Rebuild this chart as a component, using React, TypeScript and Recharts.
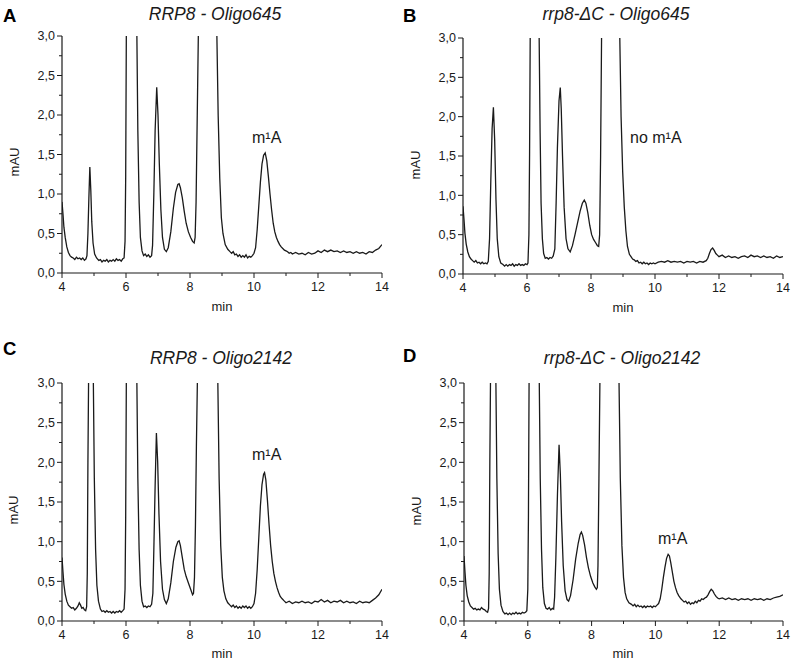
import React from 'react';
import { LineChart, Line, XAxis, YAxis } from 'recharts';

// ---------- data: [time (min), absorbance (mAU)] ----------
const traceA: [number, number][] = [
  [4.0, 0.9], [4.03, 0.75], [4.06, 0.58], [4.1, 0.45], [4.15, 0.33], [4.2, 0.26], [4.25, 0.22], [4.3, 0.2],
  [4.35, 0.19], [4.4, 0.17], [4.45, 0.2], [4.5, 0.18], [4.55, 0.19], [4.6, 0.17], [4.65, 0.19], [4.7, 0.16],
  [4.75, 0.18], [4.78, 0.22], [4.81, 0.5], [4.84, 0.95], [4.87, 1.34], [4.9, 1.05], [4.93, 0.65], [4.97, 0.38],
  [5.02, 0.24], [5.08, 0.19], [5.15, 0.16], [5.2, 0.17], [5.25, 0.14], [5.3, 0.16], [5.35, 0.15], [5.4, 0.17],
  [5.45, 0.14], [5.5, 0.16], [5.55, 0.15], [5.6, 0.17], [5.65, 0.15], [5.7, 0.18], [5.75, 0.16], [5.8, 0.17],
  [5.85, 0.15], [5.9, 0.18], [5.94, 0.19], [5.97, 0.4], [5.99, 1.2], [6.01, 3.0], [6.03, 4.5], [6.17, 8],
  [6.31, 4.5], [6.34, 3.0], [6.37, 1.8], [6.41, 0.9], [6.45, 0.45], [6.5, 0.28], [6.55, 0.22], [6.6, 0.24],
  [6.65, 0.21], [6.7, 0.23], [6.75, 0.2], [6.8, 0.22], [6.83, 0.35], [6.87, 1.0], [6.91, 1.8], [6.96, 2.35],
  [7.0, 2.0], [7.04, 1.4], [7.09, 0.8], [7.14, 0.45], [7.2, 0.3], [7.26, 0.27], [7.32, 0.32], [7.4, 0.52],
  [7.48, 0.82], [7.55, 1.02], [7.62, 1.12], [7.66, 1.13], [7.7, 1.08], [7.76, 0.95], [7.82, 0.78], [7.88, 0.63],
  [7.95, 0.52], [8.02, 0.45], [8.08, 0.4], [8.13, 0.38], [8.16, 0.45], [8.19, 0.9], [8.22, 1.8], [8.26, 3.0],
  [8.3, 4.5], [8.55, 9], [8.8, 4.5], [8.84, 3.0], [8.88, 2.0], [8.93, 1.2], [8.98, 0.7], [9.03, 0.5],
  [9.1, 0.36], [9.18, 0.3], [9.25, 0.27], [9.3, 0.25], [9.35, 0.27], [9.4, 0.23], [9.45, 0.24], [9.5, 0.21],
  [9.55, 0.23], [9.6, 0.2], [9.65, 0.22], [9.7, 0.2], [9.75, 0.23], [9.8, 0.19], [9.85, 0.21], [9.9, 0.2],
  [9.95, 0.22], [10.0, 0.25], [10.05, 0.32], [10.1, 0.55], [10.15, 0.85], [10.2, 1.15], [10.25, 1.38], [10.3, 1.49],
  [10.35, 1.52], [10.4, 1.42], [10.45, 1.22], [10.5, 1.0], [10.55, 0.8], [10.6, 0.63], [10.65, 0.52], [10.7, 0.45],
  [10.75, 0.4], [10.8, 0.36], [10.85, 0.33], [10.9, 0.31], [10.95, 0.29], [11.0, 0.28], [11.05, 0.27], [11.1, 0.25],
  [11.15, 0.26], [11.2, 0.24], [11.3, 0.26], [11.4, 0.24], [11.5, 0.25], [11.6, 0.23], [11.7, 0.26], [11.8, 0.24],
  [11.9, 0.25], [12.0, 0.28], [12.1, 0.26], [12.2, 0.29], [12.3, 0.27], [12.4, 0.29], [12.5, 0.27], [12.6, 0.28],
  [12.7, 0.26], [12.8, 0.28], [12.9, 0.26], [13.0, 0.27], [13.1, 0.25], [13.2, 0.27], [13.3, 0.25], [13.4, 0.26],
  [13.5, 0.24], [13.6, 0.27], [13.7, 0.26], [13.8, 0.29], [13.9, 0.31], [14.0, 0.36],
];

const traceB: [number, number][] = [
  [4.0, 0.86], [4.03, 0.7], [4.06, 0.52], [4.1, 0.38], [4.15, 0.28], [4.2, 0.22], [4.25, 0.19], [4.3, 0.17],
  [4.35, 0.15], [4.4, 0.17], [4.45, 0.14], [4.5, 0.15], [4.55, 0.13], [4.6, 0.15], [4.65, 0.13], [4.7, 0.14],
  [4.75, 0.13], [4.79, 0.16], [4.83, 0.45], [4.87, 1.2], [4.91, 1.85], [4.95, 2.12], [4.99, 1.7], [5.03, 0.95],
  [5.07, 0.45], [5.12, 0.22], [5.18, 0.14], [5.25, 0.12], [5.3, 0.1], [5.35, 0.12], [5.4, 0.1], [5.45, 0.12],
  [5.5, 0.11], [5.55, 0.13], [5.6, 0.1], [5.65, 0.12], [5.7, 0.11], [5.75, 0.13], [5.8, 0.11], [5.85, 0.12],
  [5.9, 0.11], [5.95, 0.13], [6.0, 0.12], [6.03, 0.14], [6.06, 0.5], [6.08, 1.5], [6.1, 3.0], [6.12, 4.5],
  [6.24, 8], [6.36, 4.5], [6.38, 3.0], [6.41, 1.8], [6.44, 0.9], [6.48, 0.45], [6.52, 0.26], [6.57, 0.2],
  [6.62, 0.21], [6.67, 0.19], [6.72, 0.21], [6.77, 0.2], [6.82, 0.23], [6.87, 0.32], [6.91, 0.9], [6.95, 1.6],
  [7.0, 2.2], [7.04, 2.37], [7.07, 2.1], [7.11, 1.5], [7.16, 0.85], [7.22, 0.45], [7.28, 0.32], [7.35, 0.28],
  [7.42, 0.36], [7.5, 0.5], [7.58, 0.65], [7.66, 0.8], [7.73, 0.9], [7.79, 0.94], [7.84, 0.9], [7.9, 0.78],
  [7.96, 0.62], [8.02, 0.5], [8.08, 0.44], [8.14, 0.4], [8.2, 0.36], [8.24, 0.35], [8.27, 0.5], [8.3, 1.5],
  [8.33, 3.0], [8.36, 4.5], [8.62, 9], [8.86, 4.5], [8.9, 3.0], [8.94, 2.0], [8.99, 1.3], [9.04, 0.85],
  [9.09, 0.55], [9.14, 0.35], [9.2, 0.25], [9.25, 0.22], [9.3, 0.19], [9.35, 0.18], [9.4, 0.16], [9.45, 0.17],
  [9.5, 0.14], [9.55, 0.15], [9.6, 0.13], [9.65, 0.15], [9.7, 0.13], [9.75, 0.14], [9.8, 0.12], [9.85, 0.14],
  [9.9, 0.13], [9.95, 0.14], [10.0, 0.13], [10.1, 0.15], [10.2, 0.16], [10.3, 0.15], [10.4, 0.17], [10.5, 0.15],
  [10.6, 0.16], [10.7, 0.15], [10.8, 0.16], [10.9, 0.14], [11.0, 0.16], [11.1, 0.15], [11.2, 0.16], [11.3, 0.14],
  [11.4, 0.16], [11.5, 0.15], [11.6, 0.17], [11.65, 0.2], [11.7, 0.26], [11.75, 0.31], [11.8, 0.33], [11.85, 0.3],
  [11.9, 0.26], [11.95, 0.24], [12.0, 0.22], [12.1, 0.24], [12.2, 0.21], [12.3, 0.23], [12.4, 0.21], [12.5, 0.22],
  [12.6, 0.2], [12.7, 0.22], [12.8, 0.23], [12.9, 0.21], [13.0, 0.24], [13.1, 0.22], [13.2, 0.23], [13.3, 0.21],
  [13.4, 0.23], [13.5, 0.21], [13.6, 0.22], [13.7, 0.2], [13.8, 0.23], [13.9, 0.21], [14.0, 0.22],
];

const traceC: [number, number][] = [
  [4.0, 0.8], [4.03, 0.62], [4.06, 0.46], [4.1, 0.34], [4.15, 0.25], [4.2, 0.2], [4.25, 0.18], [4.3, 0.16],
  [4.35, 0.17], [4.4, 0.14], [4.45, 0.16], [4.5, 0.19], [4.54, 0.23], [4.58, 0.2], [4.62, 0.16], [4.66, 0.17],
  [4.7, 0.14], [4.74, 0.13], [4.77, 0.18], [4.79, 0.6], [4.81, 2.0], [4.83, 3.0], [4.85, 4.5], [4.92, 8],
  [4.96, 4.5], [4.98, 3.0], [5.01, 1.8], [5.05, 0.9], [5.09, 0.45], [5.14, 0.25], [5.2, 0.15], [5.25, 0.12],
  [5.3, 0.13], [5.35, 0.11], [5.4, 0.13], [5.45, 0.11], [5.5, 0.12], [5.55, 0.1], [5.6, 0.12], [5.65, 0.1],
  [5.7, 0.12], [5.75, 0.11], [5.8, 0.13], [5.85, 0.11], [5.9, 0.13], [5.94, 0.15], [5.97, 0.4], [5.99, 1.3],
  [6.01, 3.0], [6.03, 4.5], [6.17, 8], [6.31, 4.5], [6.34, 3.0], [6.37, 1.8], [6.41, 0.9], [6.45, 0.45],
  [6.5, 0.25], [6.55, 0.18], [6.6, 0.19], [6.65, 0.17], [6.7, 0.19], [6.75, 0.18], [6.8, 0.21], [6.84, 0.35],
  [6.87, 0.9], [6.91, 1.7], [6.95, 2.37], [6.99, 2.0], [7.03, 1.35], [7.08, 0.75], [7.14, 0.4], [7.2, 0.27],
  [7.26, 0.22], [7.32, 0.28], [7.4, 0.48], [7.48, 0.75], [7.56, 0.93], [7.62, 1.0], [7.66, 1.01], [7.7, 0.95],
  [7.76, 0.8], [7.82, 0.65], [7.88, 0.56], [7.95, 0.48], [8.02, 0.4], [8.08, 0.33], [8.11, 0.35], [8.14, 0.55],
  [8.17, 1.2], [8.2, 2.2], [8.23, 3.0], [8.26, 4.5], [8.54, 9], [8.83, 4.5], [8.87, 3.0], [8.91, 1.8],
  [8.96, 0.95], [9.01, 0.55], [9.06, 0.38], [9.12, 0.28], [9.18, 0.23], [9.25, 0.2], [9.3, 0.18], [9.35, 0.2],
  [9.4, 0.17], [9.45, 0.19], [9.5, 0.16], [9.55, 0.18], [9.6, 0.16], [9.65, 0.19], [9.7, 0.17], [9.75, 0.19],
  [9.8, 0.16], [9.85, 0.18], [9.9, 0.16], [9.95, 0.18], [10.0, 0.22], [10.05, 0.35], [10.1, 0.65], [10.15, 1.05],
  [10.2, 1.45], [10.25, 1.72], [10.3, 1.85], [10.33, 1.87], [10.37, 1.78], [10.42, 1.52], [10.47, 1.22], [10.52, 0.95],
  [10.57, 0.75], [10.62, 0.6], [10.67, 0.5], [10.72, 0.42], [10.77, 0.36], [10.82, 0.31], [10.88, 0.28], [10.95, 0.25],
  [11.0, 0.23], [11.1, 0.25], [11.2, 0.22], [11.3, 0.24], [11.4, 0.23], [11.5, 0.25], [11.6, 0.23], [11.7, 0.24],
  [11.8, 0.22], [11.9, 0.25], [12.0, 0.24], [12.1, 0.27], [12.2, 0.24], [12.3, 0.26], [12.4, 0.23], [12.5, 0.25],
  [12.6, 0.24], [12.7, 0.26], [12.8, 0.23], [12.9, 0.25], [13.0, 0.23], [13.1, 0.24], [13.2, 0.22], [13.3, 0.25],
  [13.4, 0.23], [13.5, 0.24], [13.6, 0.23], [13.7, 0.26], [13.8, 0.29], [13.9, 0.33], [14.0, 0.4],
];

const traceD: [number, number][] = [
  [4.0, 0.82], [4.03, 0.62], [4.06, 0.45], [4.1, 0.32], [4.15, 0.24], [4.2, 0.19], [4.25, 0.17], [4.3, 0.15],
  [4.35, 0.16], [4.4, 0.14], [4.45, 0.15], [4.5, 0.14], [4.55, 0.17], [4.6, 0.15], [4.65, 0.14], [4.7, 0.12],
  [4.74, 0.11], [4.77, 0.16], [4.79, 0.6], [4.81, 2.0], [4.83, 3.0], [4.85, 4.5], [4.92, 8], [4.98, 4.5],
  [5.0, 3.0], [5.03, 1.8], [5.07, 0.85], [5.11, 0.4], [5.16, 0.2], [5.22, 0.12], [5.28, 0.09], [5.33, 0.1],
  [5.38, 0.08], [5.43, 0.1], [5.48, 0.08], [5.53, 0.1], [5.58, 0.09], [5.63, 0.11], [5.68, 0.09], [5.73, 0.1],
  [5.78, 0.09], [5.83, 0.11], [5.88, 0.1], [5.93, 0.11], [5.97, 0.13], [6.0, 0.4], [6.02, 1.3], [6.04, 3.0],
  [6.06, 4.5], [6.2, 8], [6.33, 4.5], [6.36, 3.0], [6.39, 1.8], [6.43, 0.9], [6.47, 0.42], [6.52, 0.22],
  [6.57, 0.16], [6.62, 0.15], [6.67, 0.17], [6.72, 0.14], [6.77, 0.16], [6.81, 0.15], [6.84, 0.3], [6.88, 0.8],
  [6.93, 1.6], [6.98, 2.22], [7.02, 1.85], [7.06, 1.25], [7.11, 0.7], [7.17, 0.38], [7.23, 0.27], [7.28, 0.25],
  [7.34, 0.32], [7.42, 0.52], [7.5, 0.78], [7.58, 0.98], [7.64, 1.09], [7.68, 1.12], [7.72, 1.08], [7.78, 0.96],
  [7.84, 0.8], [7.9, 0.67], [7.97, 0.56], [8.04, 0.48], [8.1, 0.43], [8.15, 0.4], [8.18, 0.42], [8.2, 0.7],
  [8.23, 1.8], [8.26, 3.0], [8.29, 4.5], [8.56, 9], [8.82, 4.5], [8.86, 3.0], [8.9, 1.8], [8.95, 0.95],
  [9.0, 0.55], [9.05, 0.36], [9.1, 0.28], [9.17, 0.23], [9.25, 0.21], [9.3, 0.19], [9.35, 0.21], [9.4, 0.18],
  [9.45, 0.2], [9.5, 0.18], [9.55, 0.19], [9.6, 0.17], [9.65, 0.19], [9.7, 0.17], [9.75, 0.19], [9.8, 0.18],
  [9.85, 0.19], [9.9, 0.17], [9.95, 0.19], [10.0, 0.18], [10.05, 0.2], [10.1, 0.22], [10.15, 0.28], [10.2, 0.4],
  [10.25, 0.55], [10.3, 0.68], [10.35, 0.79], [10.4, 0.84], [10.44, 0.82], [10.48, 0.74], [10.53, 0.62], [10.58, 0.5],
  [10.63, 0.42], [10.68, 0.36], [10.73, 0.32], [10.8, 0.28], [10.85, 0.26], [10.9, 0.24], [10.95, 0.25], [11.0, 0.22],
  [11.05, 0.24], [11.1, 0.21], [11.15, 0.23], [11.2, 0.22], [11.25, 0.25], [11.3, 0.23], [11.35, 0.26], [11.4, 0.25],
  [11.45, 0.28], [11.5, 0.27], [11.55, 0.29], [11.6, 0.3], [11.65, 0.33], [11.7, 0.37], [11.75, 0.4], [11.8, 0.38],
  [11.85, 0.34], [11.9, 0.31], [11.95, 0.29], [12.0, 0.28], [12.1, 0.29], [12.2, 0.27], [12.3, 0.29], [12.4, 0.27],
  [12.5, 0.28], [12.6, 0.26], [12.7, 0.28], [12.8, 0.27], [12.9, 0.28], [13.0, 0.26], [13.1, 0.28], [13.2, 0.27],
  [13.3, 0.28], [13.4, 0.26], [13.5, 0.28], [13.6, 0.27], [13.7, 0.29], [13.8, 0.3], [13.9, 0.31], [14.0, 0.33],
];

const xTicks = [4, 5, 6, 7, 8, 9, 10, 11, 12, 13, 14];
const xLabeled = [4, 6, 8, 10, 12, 14];
const yTicks = [0, 0.25, 0.5, 0.75, 1, 1.25, 1.5, 1.75, 2, 2.25, 2.5, 2.75, 3];
const yLabeled = [0, 0.5, 1, 1.5, 2, 2.5, 3];

const FONT = '"Liberation Sans", Arial, Helvetica, sans-serif';
const INK = '#1a1a1a';

const fmtY = (v: number) => v.toFixed(1).replace('.', ',');

const YTick = (props: any) => {
  const { x, y, payload } = props;
  const v = payload.value as number;
  const major = yLabeled.some((m) => Math.abs(m - v) < 1e-6);
  return (
    <g>
      <line x1={x - (major ? 5 : 3)} y1={y} x2={x} y2={y} stroke={INK} strokeWidth={1} />
      {major && (
        <text x={x - 7} y={y + 4.3} textAnchor="end" fontSize={12.5} fontFamily={FONT} fill={INK}>
          {fmtY(v)}
        </text>
      )}
    </g>
  );
};

const XTick = (props: any) => {
  const { x, y, payload } = props;
  const v = payload.value as number;
  const major = xLabeled.includes(v);
  return (
    <g>
      <line x1={x} y1={y} x2={x} y2={y + (major ? 5 : 3)} stroke={INK} strokeWidth={1} />
      {major && (
        <text x={x} y={y + 17.5} textAnchor="middle" fontSize={12.5} fontFamily={FONT} fill={INK}>
          {v}
        </text>
      )}
    </g>
  );
};

type PanelProps = {
  trace: [number, number][];
  ox: number;
  oy: number;
  plot: { left: number; top: number; right: number; bottom: number };
};

const CW = 400;
const CH = 332;
const YW = 40;
const XH = 30;

const Panel = ({ trace, ox, oy, plot }: PanelProps) => {
  const data = trace.map(([t, v]) => ({ t, v }));
  const margin = {
    top: plot.top - oy,
    left: plot.left - ox - YW,
    right: ox + CW - plot.right,
    bottom: oy + CH - plot.bottom - XH,
  };
  return (
    <div style={{ position: 'absolute', left: ox, top: oy, width: CW, height: CH }}>
      <LineChart width={CW} height={CH} data={data} margin={margin}>
        <XAxis
          dataKey="t"
          type="number"
          domain={[4, 14]}
          ticks={xTicks}
          interval={0}
          allowDataOverflow
          height={XH}
          tickSize={0}
          tickMargin={0}
          tickLine={false}
          tick={<XTick />}
          axisLine={{ stroke: INK, strokeWidth: 1.2 }}
        />
        <YAxis
          type="number"
          domain={[0, 3]}
          ticks={yTicks}
          interval={0}
          allowDataOverflow
          width={YW}
          tickSize={0}
          tickMargin={0}
          tickLine={false}
          tick={<YTick />}
          axisLine={{ stroke: INK, strokeWidth: 1.2 }}
        />
        <Line
          dataKey="v"
          type="linear"
          stroke={INK}
          strokeWidth={1.3}
          dot={false}
          activeDot={false}
          isAnimationActive={false}
        />
      </LineChart>
    </div>
  );
};

const panels = [
  { key: 'A', trace: traceA, ox: 0, oy: 0, plot: { left: 62, top: 36, right: 382, bottom: 273 } },
  { key: 'B', trace: traceB, ox: 400, oy: 0, plot: { left: 463, top: 38, right: 783, bottom: 274 } },
  { key: 'C', trace: traceC, ox: 0, oy: 332, plot: { left: 62, top: 383, right: 382, bottom: 621 } },
  { key: 'D', trace: traceD, ox: 400, oy: 332, plot: { left: 464, top: 383, right: 783, bottom: 621 } },
];

const letters = [
  { text: 'A', x: 3, y: 22 },
  { text: 'B', x: 403, y: 22 },
  { text: 'C', x: 3, y: 355 },
  { text: 'D', x: 403, y: 362 },
];

const titles = [
  { text: 'RRP8 - Oligo645', x: 215, y: 20 },
  { text: 'rrp8-ΔC - Oligo645', x: 616, y: 20 },
  { text: 'RRP8 - Oligo2142', x: 221, y: 364 },
  { text: 'rrp8-ΔC - Oligo2142', x: 622, y: 364 },
];

const notes = [
  { text: 'm¹A', x: 252, y: 142.5 },
  { text: 'no m¹A', x: 630, y: 142.5 },
  { text: 'm¹A', x: 252, y: 460 },
  { text: 'm¹A', x: 658, y: 544 },
];

const yTitles = [
  { x: 19, y: 162 },
  { x: 420, y: 165 },
  { x: 18, y: 510 },
  { x: 421, y: 511 },
];

const xTitles = [
  { x: 222, y: 311 },
  { x: 623, y: 312 },
  { x: 222, y: 658 },
  { x: 623, y: 658 },
];

export default function App() {
  return (
    <div
      style={{
        position: 'absolute',
        left: 0,
        top: 0,
        width: 800,
        height: 664,
        background: '#ffffff',
        overflow: 'hidden',
      }}
    >
      {panels.map((p) => (
        <Panel key={p.key} trace={p.trace} ox={p.ox} oy={p.oy} plot={p.plot} />
      ))}
      <svg
        width={800}
        height={664}
        style={{ position: 'absolute', left: 0, top: 0, pointerEvents: 'none' }}
        fontFamily={FONT}
      >
        {letters.map((l) => (
          <text key={l.text} x={l.x} y={l.y} fontSize={18.5} fontWeight="bold" fill="#000">
            {l.text}
          </text>
        ))}
        {titles.map((t) => (
          <text key={t.text} x={t.x} y={t.y} fontSize={17.5} fontStyle="italic" textAnchor="middle" fill={INK}>
            {t.text}
          </text>
        ))}
        {notes.map((n, i) => (
          <text key={i} x={n.x} y={n.y} fontSize={16} fill={INK}>
            {n.text}
          </text>
        ))}
        {yTitles.map((t, i) => (
          <text
            key={i}
            x={t.x}
            y={t.y}
            fontSize={13}
            textAnchor="middle"
            fill={INK}
            transform={`rotate(-90 ${t.x} ${t.y})`}
          >
            mAU
          </text>
        ))}
        {xTitles.map((t, i) => (
          <text key={i} x={t.x} y={t.y} fontSize={13} textAnchor="middle" fill={INK}>
            min
          </text>
        ))}
      </svg>
    </div>
  );
}
